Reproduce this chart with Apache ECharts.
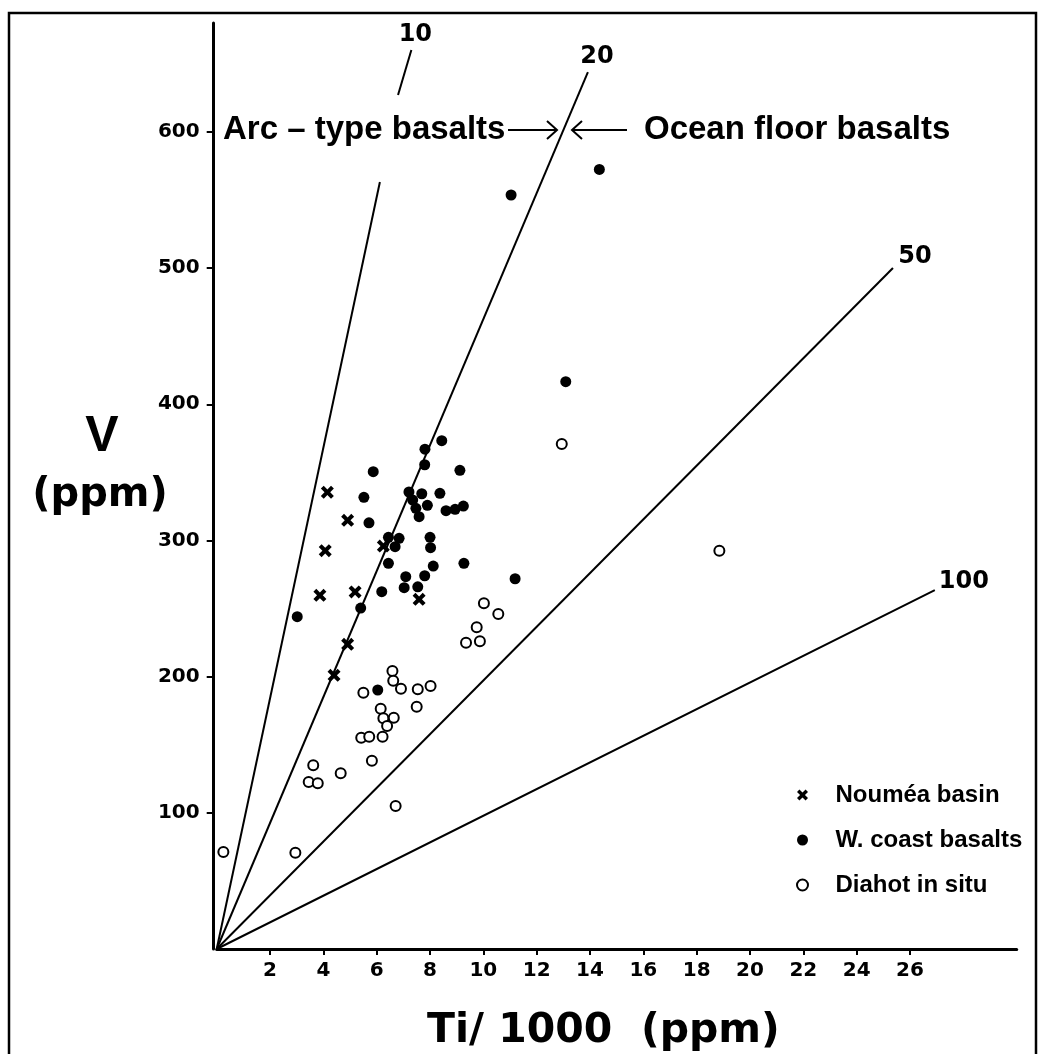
<!DOCTYPE html>
<html><head><meta charset="utf-8">
<script src="https://cdn.jsdelivr.net/npm/echarts@6/dist/echarts.min.js"></script>
<style>html,body{margin:0;padding:0;background:#fff}#c{width:1040px;height:1054px}</style>
</head><body><div id="c"></div>
<script>
// ---- data (Ti/1000 ppm, V ppm) ----
const xTicks = [2,4,6,8,10,12,14,16,18,20,22,24,26];
const yTicks = [100,200,300,400,500,600];
const seriesNames = ['Nouméa basin','W. coast basalts','Diahot in situ'];
const noumea = [[4.15,335.4],[4.91,314.8],[4.07,292.5],[3.87,259.7],[5.19,262.2],[7.59,256.8],[6.25,295.9],[4.91,223.7],[4.40,201.0]];
const wcoast = [[14.35,572.5],[11.04,553.7],[13.09,416.6],[8.44,373.3],[7.81,367.0],[7.80,355.6],[5.87,350.5],[9.12,351.5],[5.52,331.7],[7.21,335.6],[7.69,334.3],[8.37,334.6],[7.35,329.7],[7.47,323.6],[7.59,317.5],[7.90,325.8],[8.60,321.9],[8.94,322.9],[9.25,325.3],[5.71,313.0],[6.44,302.3],[6.84,301.6],[6.69,295.4],[8.00,302.3],[8.02,294.7],[6.44,283.2],[8.12,281.2],[9.27,283.2],[7.09,273.4],[7.80,274.1],[7.03,265.3],[7.54,266.0],[6.19,262.4],[5.40,250.4],[3.02,244.0],[11.19,271.9],[6.04,190.2]];
const diahot = [[10.02,253.9],[10.56,246.0],[9.75,236.2],[9.35,224.9],[9.87,226.0],[6.59,204.1],[6.62,197.0],[6.91,191.1],[7.54,190.7],[8.02,193.1],[5.50,188.2],[6.15,176.5],[6.25,169.4],[6.64,169.9],[6.39,163.8],[7.50,177.9],[5.42,155.2],[5.72,155.9],[6.22,155.9],[5.82,138.3],[3.62,134.9],[3.45,122.6],[3.79,121.7],[4.65,129.0],[6.71,105.0],[0.25,71.2],[2.95,70.7],[12.94,370.8],[18.85,292.5]];
// Ti/V ratio lines as drawn
const ratioLabels = ['10','20','50','100'];
const ratio10Lower = [[0,0],[6.12,563.2]];
const ratio10Upper = [[6.80,627.1],[7.30,660.2]];
const ratio20 = [[0,0],[13.92,644.0]];
const ratio50 = [[0,0],[25.36,500.1]];
const ratio100 = [[0,0],[26.93,263.6]];

const numFont = 'DejaVu Sans';
const txtFont = 'Liberation Sans';
const crossPath = 'path://M0,2.2L2.2,0L5,2.8L7.8,0L10,2.2L7.2,5L10,7.8L7.8,10L5,7.2L2.2,10L0,7.8L2.8,5Z';

function ratioLine(data, label, offset) {
  const s = {
    type: 'line', data: data, symbol: 'none', silent: true, z: 1,
    lineStyle: { color: '#000', width: 2 }, clip: false
  };
  if (label) {
    s.endLabel = { show: true, formatter: label, distance: 0, offset: offset,
      align: 'center', verticalAlign: 'middle',
      color: '#000', fontFamily: numFont, fontWeight: 'bold', fontSize: 24 };
  }
  return s;
}

const chart = echarts.init(document.getElementById('c'));
chart.setOption({
  animation: false,
  backgroundColor: '#fff',
  grid: { left: 216.7, right: 23.3, top: 23, bottom: 105, containLabel: false, outerBoundsMode: 'none' },
  xAxis: {
    type: 'value', min: 0, max: 30, interval: 2,
    axisLine: { show: true, onZero: false, lineStyle: { color: '#000', width: 3 } },
    axisTick: { show: true, customValues: xTicks, length: 6, lineStyle: { color: '#000', width: 2 } },
    axisLabel: { customValues: xTicks, color: '#000', fontFamily: numFont, fontWeight: 'bold', fontSize: 20, margin: 12 },
    splitLine: { show: false }
  },
  yAxis: {
    type: 'value', min: 0, max: 680, interval: 100, offset: 3,
    axisLine: { show: true, onZero: false, lineStyle: { color: '#000', width: 3 } },
    axisTick: { show: true, customValues: yTicks, length: 7, lineStyle: { color: '#000', width: 2 } },
    axisLabel: { customValues: yTicks, color: '#000', fontFamily: numFont, fontWeight: 'bold', fontSize: 20, margin: 14 },
    splitLine: { show: false }
  },
  legend: {
    data: seriesNames, orient: 'vertical', left: 796, top: 783, padding: 0,
    itemWidth: 56, itemHeight: 11, itemGap: 21, selectedMode: false,
    textStyle: { color: '#000', fontFamily: txtFont, fontWeight: 'bold', fontSize: 24 }
  },
  series: [
    ratioLine(ratio10Lower, null),
    ratioLine(ratio10Upper, ratioLabels[0], [4, -15]),
    ratioLine(ratio20, ratioLabels[1], [9, -15]),
    ratioLine(ratio50, ratioLabels[2], [22, -11]),
    ratioLine(ratio100, ratioLabels[3], [29, -8]),
    { name: seriesNames[0], type: 'scatter', data: noumea, symbol: crossPath, symbolSize: 13,
      itemStyle: { color: '#000', opacity: 1 }, z: 3 },
    { name: seriesNames[1], type: 'scatter', data: wcoast, symbol: 'circle', symbolSize: 11,
      itemStyle: { color: '#000', opacity: 1 }, z: 3 },
    { name: seriesNames[2], type: 'scatter', data: diahot, symbol: 'emptyCircle', symbolSize: 10,
      itemStyle: { color: '#000', borderColor: '#000', borderWidth: 2.6, opacity: 1 }, z: 4 }
  ],
  graphic: [
    { type: 'polyline', silent: true, shape: { points: [[9,1054],[9,13],[1036,13],[1036,1054]] },
      style: { stroke: '#000', lineWidth: 2.5, fill: 'none' } },
    { type: 'text', left: 223, top: 113, silent: true,
      style: { text: 'Arc – type basalts', fill: '#000', font: 'bold 33px "Liberation Sans"' } },
    { type: 'line', silent: true, shape: { x1: 508, y1: 130, x2: 557, y2: 130 }, style: { stroke: '#000', lineWidth: 2 } },
    { type: 'polyline', silent: true, shape: { points: [[547,121],[557,130],[547,139]] }, style: { stroke: '#000', lineWidth: 2, fill: 'none' } },
    { type: 'line', silent: true, shape: { x1: 572, y1: 130, x2: 627, y2: 130 }, style: { stroke: '#000', lineWidth: 2 } },
    { type: 'polyline', silent: true, shape: { points: [[582,121],[572,130],[582,139]] }, style: { stroke: '#000', lineWidth: 2, fill: 'none' } },
    { type: 'text', left: 644, top: 113, silent: true,
      style: { text: 'Ocean floor basalts', fill: '#000', font: 'bold 33px "Liberation Sans"' } },
    { type: 'text', silent: true, x: 102, y: 437,
      style: { text: 'V', fill: '#000', font: 'bold 50px "Liberation Sans"', align: 'center', verticalAlign: 'middle' } },
    { type: 'text', silent: true, x: 100, y: 496,
      style: { text: '(ppm)', fill: '#000', font: 'bold 40px "DejaVu Sans"', align: 'center', verticalAlign: 'middle' } },
    { type: 'text', silent: true, x: 427, y: 1031,
      style: { text: 'Ti/ 1000  (ppm)', fill: '#000', font: 'bold 41px "DejaVu Sans"', align: 'left', verticalAlign: 'middle' } }
  ]
});
</script>
</body></html>
